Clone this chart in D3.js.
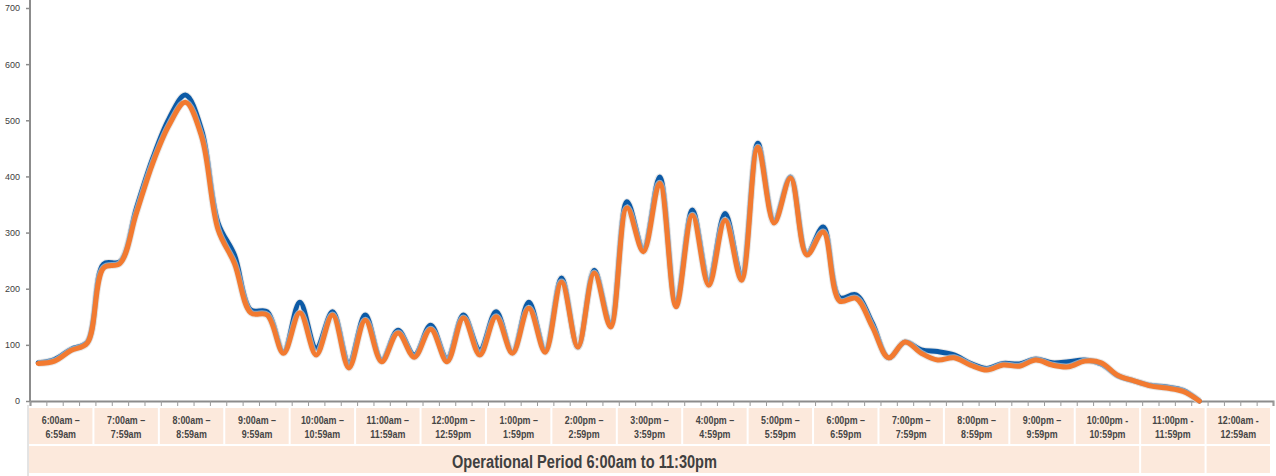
<!DOCTYPE html>
<head>
    <meta charset='utf-8'>
    <title>Operational Period</title>
    <script src='https://d3js.org/d3.v7.min.js'></script>
    <style>
        html, body {
            margin: 0px;
            padding: 0px;
            background: white;
        }
        svg {
            display: block;
            font-family: 'Liberation Sans', Arial, sans-serif;
        }
    </style>
</head>
<body>
    <svg id='chart' width='1276' height='476'></svg>

    <script>
        // hour blocks shown under the axis
        var hourTop = ['6:00am –', '7:00am –', '8:00am –', '9:00am –', '10:00am –', '11:00am –',
                       '12:00pm –', '1:00pm –', '2:00pm –', '3:00pm –', '4:00pm –', '5:00pm –',
                       '6:00pm –', '7:00pm –', '8:00pm –', '9:00pm –', '10:00pm -', '11:00pm -', '12:00am -'];
        var hourBottom = ['6:59am', '7:59am', '8:59am', '9:59am', '10:59am', '11:59am',
                          '12:59pm', '1:59pm', '2:59pm', '3:59pm', '4:59pm', '5:59pm',
                          '6:59pm', '7:59pm', '8:59pm', '9:59pm', '10:59pm', '11:59pm', '12:59am'];

        // 15 minute slots, 6:00am .. 11:45pm
        var blueSeries = [68, 74, 92, 105, 244, 248, 343, 432, 503, 545, 482, 317,
                          260, 162, 159, 88, 176, 94, 159, 68, 153, 73, 126, 82,
                          135, 76, 153, 91, 159, 87, 176, 91, 219, 96, 233, 137,
                          355, 272, 399, 174, 340, 215, 334, 224, 459, 322, 399, 263,
                          310, 184, 189, 139, 77, 105, 91, 88, 82, 67, 58, 67,
                          66, 75, 68, 70, 73, 66, 45, 36, 28, 25, 19, 0];
        var orangeSeries = [67, 71, 90, 103, 237, 245, 334, 423, 491, 532, 470, 305,
                            245, 157, 153, 85, 157, 82, 153, 59, 144, 70, 121, 78,
                            128, 70, 148, 82, 150, 85, 165, 87, 212, 96, 228, 132,
                            344, 266, 388, 168, 331, 206, 322, 215, 452, 317, 397, 260,
                            301, 178, 183, 132, 77, 105, 85, 73, 77, 64, 55, 64,
                            62, 73, 64, 61, 71, 68, 46, 36, 27, 23, 17, 0];

        var yTicks = [0, 100, 200, 300, 400, 500, 600, 700];
        var footerText = 'Operational Period 6:00am to 11:30pm';

        var svg = d3.select('#chart');

        var slotCount = hourTop.length * 4;
        var x = d3.scaleLinear().domain([0, slotCount]).range([30, 1273]);
        var y = d3.scaleLinear().domain([0, 700]).range([401, 8]);
        var hourBand = d3.scaleBand().domain(d3.range(hourTop.length)).range([28, 1271]);

        // category table
        var table = svg.append('g');
        table.selectAll('rect.hour')
            .data(hourTop)
            .enter()
            .append('rect')
            .attr('class', 'hour')
            .attr('x', function(d, i) { return hourBand(i) + 1; })
            .attr('y', 408)
            .attr('width', hourBand.bandwidth() - 2)
            .attr('height', 36)
            .attr('fill', '#fce9dc');

        function addLabels(labels, baseline) {
            table.selectAll(null)
                .data(labels)
                .enter()
                .append('text')
                .attr('transform', function(d, i) {
                    return 'translate(' + (hourBand(i) + hourBand.bandwidth() / 2) + ',' + baseline + ') scale(0.84,1)';
                })
                .attr('text-anchor', 'middle')
                .attr('font-size', 10.6)
                .attr('font-weight', 'bold')
                .attr('fill', '#454545')
                .text(function(d) { return d; });
        }
        addLabels(hourTop, 424);
        addLabels(hourBottom, 437.5);

        // footer row: period spans up to 10pm block, then two single cells
        var spans = [[0, 17], [17, 18], [18, 19]];
        table.selectAll('rect.span')
            .data(spans)
            .enter()
            .append('rect')
            .attr('x', function(d) { return hourBand(d[0]) + 1; })
            .attr('y', 446)
            .attr('width', function(d) { return (d[1] - d[0]) * hourBand.bandwidth() - 2; })
            .attr('height', 27)
            .attr('fill', '#fce9dc');

        table.append('text')
            .attr('x', 452)
            .attr('y', 468)
            .attr('font-size', 18)
            .attr('font-weight', 'bold')
            .attr('textLength', 265)
            .attr('lengthAdjust', 'spacingAndGlyphs')
            .attr('fill', '#404040')
            .text(footerText);

        table.append('line')
            .attr('x1', 28).attr('x2', 28)
            .attr('y1', 405).attr('y2', 476)
            .attr('stroke', '#c8c8c8');

        // axes
        var yAxis = svg.append('g')
            .attr('transform', 'translate(30,0)')
            .call(d3.axisLeft(y).tickValues(yTicks).tickSize(4).tickPadding(6));
        yAxis.select('.domain').attr('stroke', '#8c8c8c').attr('stroke-width', 2)
            .attr('d', 'M0,0V401');
        yAxis.selectAll('.tick line').attr('stroke', '#8c8c8c').attr('stroke-width', 1.5);
        yAxis.selectAll('.tick text')
            .attr('font-size', 9)
            .attr('fill', '#404040')
            .attr('font-family', 'Liberation Sans, Arial, sans-serif');

        var xAxis = svg.append('g')
            .attr('transform', 'translate(0,401)')
            .call(d3.axisBottom(x).tickValues(d3.range(slotCount + 1)).tickSize(5).tickFormat(''));
        xAxis.select('.domain').attr('stroke', '#8c8c8c').attr('stroke-width', 2);
        xAxis.selectAll('.tick line').attr('stroke', '#9a9a9a').attr('stroke-width', 1);

        // lines
        var line = d3.line()
            .x(function(d, i) { return x(i + 0.5); })
            .y(function(d) { return y(d); })
            .curve(d3.curveCatmullRom.alpha(0.5));

        [[blueSeries, '#0c5aa6'], [orangeSeries, '#f27a30']].forEach(function(s) {
            svg.append('path')
                .datum(s[0])
                .attr('d', line)
                .attr('fill', 'none')
                .attr('stroke', '#d9d9d9')
                .attr('stroke-width', 7)
                .attr('stroke-linejoin', 'round')
                .attr('opacity', 0.6);
            svg.append('path')
                .datum(s[0])
                .attr('d', line)
                .attr('fill', 'none')
                .attr('stroke', s[1])
                .attr('stroke-width', 5)
                .attr('stroke-linejoin', 'round')
                .attr('stroke-linecap', 'round');
        });
    </script>
</body>
